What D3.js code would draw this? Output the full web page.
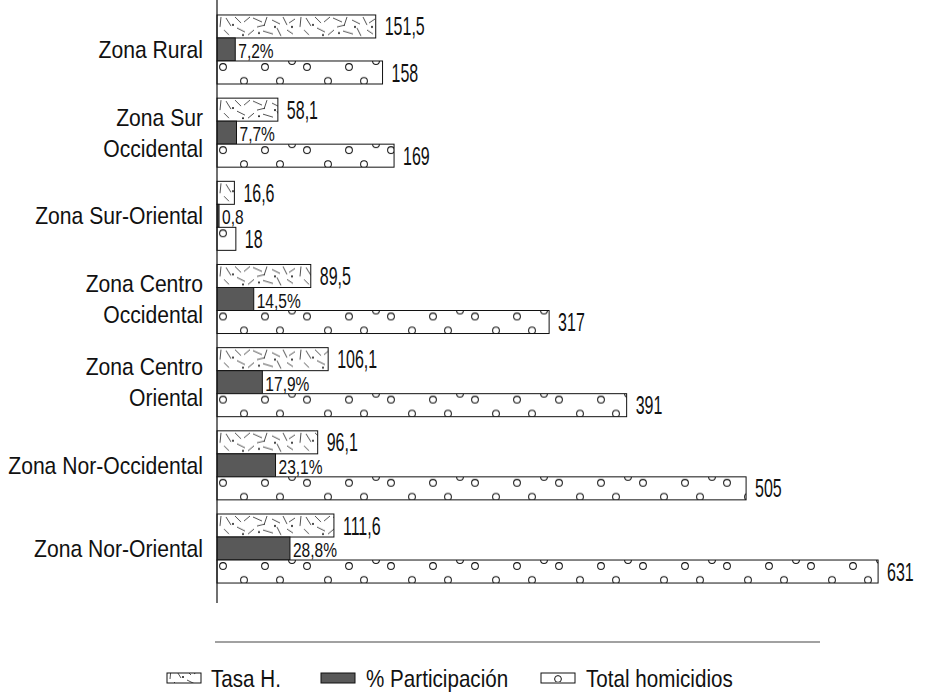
<!DOCTYPE html>
<html>
<head>
<meta charset="utf-8">
<script src="https://cdn.jsdelivr.net/npm/d3@7"></script>
<style>
  html, body { margin: 0; padding: 0; background: #fff; }
  svg { display: block; }
  text { font-family: 'Liberation Sans', Arial, sans-serif; fill: #111; }
</style>
</head>
<body>
<svg id="chart" width="926" height="696"></svg>
<script>
// Homicidios por zona
const categories = ["Zona Rural", "Zona Sur Occidental", "Zona Sur-Oriental", "Zona Centro Occidental",
                    "Zona Centro Oriental", "Zona Nor-Occidental", "Zona Nor-Oriental"];
const categoryLines = [["Zona Rural"], ["Zona Sur", "Occidental"], ["Zona Sur-Oriental"], ["Zona Centro", "Occidental"],
                       ["Zona Centro", "Oriental"], ["Zona Nor-Occidental"], ["Zona Nor-Oriental"]];
const tasaH = [151.5, 58.1, 16.6, 89.5, 106.1, 96.1, 111.6];
const participacion = [7.2, 7.7, 0.8, 14.5, 17.9, 23.1, 28.8];
const pctLabels = ["7,2%", "7,7%", "0,8", "14,5%", "17,9%", "23,1%", "28,8%"];
const totalHomicidios = [158, 169, 18, 317, 391, 505, 631];
const seriesKeys = ["tasa", "pct", "total"];
const seriesNames = ["Tasa H.", "% Participación", "Total homicidios"];

const rows = categories.map((c, i) => ({
  cat: c, lines: categoryLines[i], tasa: tasaH[i], pct: participacion[i], pctLabel: pctLabels[i],
  total: totalHomicidios[i]
}));

const svg = d3.select("#chart");
const left = 217;

const y = d3.scaleBand().domain(categories).range([0, 598]).paddingInner(0.17).paddingOuter(0.18);
const ySub = d3.scaleBand().domain(seriesKeys).range([0, y.bandwidth()]);
const x = d3.scaleLinear().domain([0, 650]).range([left, 898]);
const xPct = d3.scaleLinear().domain([0, 30]).range([left, 293]);

const loc = d3.formatLocale({ decimal: ",", thousands: ".", grouping: [3], currency: ["", ""] });
const f1 = loc.format(".1f");
const f0 = loc.format("d");

// Condensed lettering: horizontally squeezed text anchored at (tx, ty)
function squeeze(sel, tx, ty, sx) {
  return sel.attr("transform", (d, i) => {
    const X = typeof tx === "function" ? tx(d, i) : tx;
    const Y = typeof ty === "function" ? ty(d, i) : ty;
    return `translate(${X},${Y}) scale(${sx},1)`;
  });
}

// Fill patterns
const defs = svg.append("defs");
const strokes = [[4,2,3,12],[9,3,14,11],[18,2,24,8],[27,7,33,2],[36,3,45,7],[40,12,48,10],[50,2,47,11],
                 [55,5,63,9],[66,2,70,10],[72,8,78,4],[7,15,12,20],[20,13,28,17],[31,20,37,15],
                 [46,16,56,19],[60,13,64,21],[70,15,76,19]];
const dots = [[16,10],[42,18],[58,12],[75,12],[26,20]];
const rings = [[6,6],[48,6],[27,20],[63,20],[75,0]];

function tasaPattern(id, px, py, h) {
  const p = defs.append("pattern").attr("id", id).attr("patternUnits", "userSpaceOnUse")
    .attr("x", px).attr("y", py).attr("width", 80).attr("height", h);
  p.append("rect").attr("width", 80).attr("height", h).attr("fill", "#fff");
  p.selectAll("line").data(strokes).join("line")
    .attr("x1", d => d[0]).attr("y1", d => d[1]).attr("x2", d => d[2]).attr("y2", d => d[3])
    .attr("stroke", "#222").attr("stroke-width", 0.8);
  p.selectAll("circle").data(dots).join("circle")
    .attr("cx", d => d[0]).attr("cy", d => d[1]).attr("r", 1).attr("fill", "#111");
}
function ringPattern(id, px, py, h) {
  const p = defs.append("pattern").attr("id", id).attr("patternUnits", "userSpaceOnUse")
    .attr("x", px).attr("y", py).attr("width", 84).attr("height", h);
  p.append("rect").attr("width", 84).attr("height", h).attr("fill", "#fff");
  p.selectAll("circle").data(rings).join("circle")
    .attr("cx", d => d[0]).attr("cy", d => d[1]).attr("r", 3.4)
    .attr("fill", "#fff").attr("stroke", "#111").attr("stroke-width", 1);
}
// bars live inside per-category groups, so the patterns use group-local coordinates
tasaPattern("patTasa", left, ySub("tasa"), y.step());
ringPattern("patTotal", left, ySub("total"), y.step());

// Bars
const g = svg.append("g");
const groups = g.selectAll("g.cat").data(rows).join("g").attr("class", "cat")
  .attr("transform", d => `translate(0,${y(d.cat)})`);

const bh = ySub.bandwidth();
groups.append("rect")
  .attr("x", left).attr("y", ySub("tasa"))
  .attr("width", d => x(d.tasa) - left).attr("height", bh)
  .attr("fill", "url(#patTasa)").attr("stroke", "#111").attr("stroke-width", 1);
groups.append("rect")
  .attr("x", left).attr("y", ySub("pct"))
  .attr("width", d => xPct(d.pct) - left).attr("height", bh)
  .attr("fill", "#595959").attr("stroke", "#111").attr("stroke-width", 1);
groups.append("rect")
  .attr("x", left).attr("y", ySub("total"))
  .attr("width", d => x(d.total) - left).attr("height", bh)
  .attr("fill", "url(#patTotal)").attr("stroke", "#111").attr("stroke-width", 1);

// Value labels
squeeze(groups.append("text"), d => x(d.tasa) + 9, ySub("tasa") + bh / 2, 0.64)
  .attr("dy", "0.36em").attr("font-size", 25).text(d => f1(d.tasa));
squeeze(groups.append("text"), d => xPct(d.pct) + 3, ySub("pct") + bh - 3, 0.74)
  .attr("font-size", 21).text(d => d.pctLabel);
squeeze(groups.append("text"), d => x(d.total) + 9, ySub("total") + bh / 2, 0.64)
  .attr("dy", "0.36em").attr("font-size", 25).text(d => f0(d.total));

// Category labels
const lineGap = 31;
squeeze(groups.append("text"), 203, y.bandwidth() / 2, 0.88)
  .attr("text-anchor", "end").attr("font-size", 24)
  .each(function (d) {
    const t = d3.select(this);
    const n = d.lines.length;
    d.lines.forEach((ln, k) => {
      t.append("tspan").attr("x", 0)
        .attr("y", (k - (n - 1) / 2) * lineGap)
        .attr("dy", "0.36em").text(ln);
    });
  });

// Vertical axis line
svg.append("line").attr("x1", left).attr("x2", left).attr("y1", 0).attr("y2", 603)
  .attr("stroke", "#111").attr("stroke-width", 1.2);

// Legend
svg.append("line").attr("x1", 215).attr("x2", 820).attr("y1", 642).attr("y2", 642)
  .attr("stroke", "#444").attr("stroke-width", 1.2);

const legendY = 673;
const legendItems = [
  { key: "tasa", sx: 167, tx: 211 },
  { key: "pct", sx: 321, tx: 366 },
  { key: "total", sx: 541, tx: 586 }
];
tasaPattern("legTasa", 167, legendY - 6, 23);
ringPattern("legTotal", 541 - 10, legendY - 14, 23);
const fills = { tasa: "url(#legTasa)", pct: "#595959", total: "url(#legTotal)" };
const leg = svg.append("g").selectAll("g").data(legendItems).join("g");
leg.append("rect").attr("x", d => d.sx).attr("y", legendY).attr("width", 34).attr("height", 10)
  .attr("fill", d => fills[d.key]).attr("stroke", "#111").attr("stroke-width", 1);
squeeze(leg.append("text"), d => d.tx, legendY + 5, 0.86)
  .attr("dy", "0.36em").attr("font-size", 24).text((d, i) => seriesNames[i]);
</script>
</body>
</html>
